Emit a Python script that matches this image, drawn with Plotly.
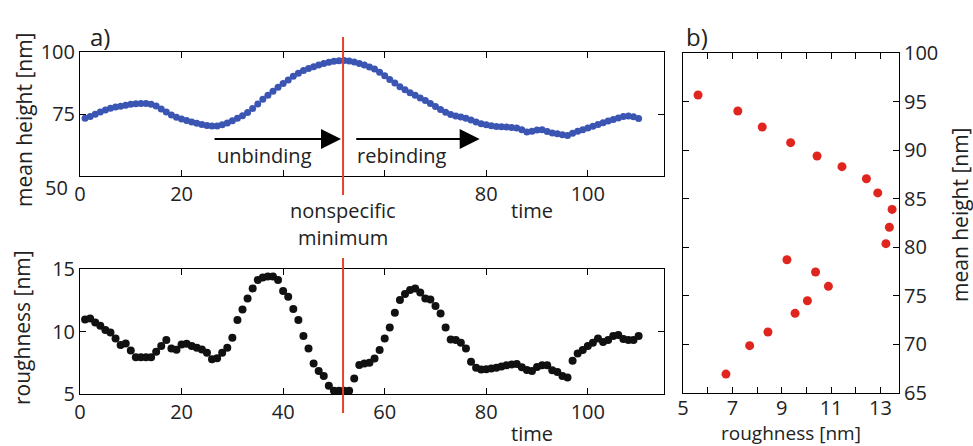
import plotly.graph_objects as go

W, H = 973, 446

time = list(range(1, 111))

mean_height = [
    73.3, 74.0, 74.9, 75.8, 76.6, 77.3, 77.8, 78.1, 78.5, 78.9,
    79.1, 79.2, 79.2, 78.9, 78.2, 77.0, 75.8, 74.6, 73.7, 73.0,
    72.4, 71.8, 71.3, 70.8, 70.4, 70.2, 70.2, 70.7, 71.4, 72.3,
    73.3, 74.3, 75.6, 77.2, 79.0, 80.9, 82.6, 84.2, 85.8, 87.3,
    88.7, 90.2, 91.4, 92.5, 93.3, 94.1, 94.8, 95.4, 95.9, 96.3,
    96.5, 96.6, 96.4, 96.0, 95.4, 94.8, 94.0, 93.1, 91.8, 90.4,
    88.9, 87.5, 86.0, 84.8, 83.6, 82.6, 81.5, 80.4, 79.2, 78.0,
    76.8, 75.7, 74.8, 74.2, 73.8, 73.3, 72.6, 71.8, 71.1, 70.7,
    70.3, 70.0, 69.9, 69.8, 69.6, 69.4, 68.6, 67.7, 68.0, 68.5,
    68.6, 67.9, 67.3, 67.0, 66.6, 66.3, 67.2, 68.0, 68.6, 69.4,
    70.1, 70.8, 71.5, 72.2, 72.8, 73.4, 74.0, 74.2, 73.9, 73.2,
]

roughness = [
    10.97, 11.05, 10.73, 10.47, 10.12, 9.93, 9.45, 8.92, 9.05, 8.49,
    7.94, 7.94, 7.94, 7.94, 8.38, 8.84, 9.32, 8.65, 8.55, 8.97,
    9.03, 8.84, 8.71, 8.57, 8.30, 7.78, 7.87, 8.30, 8.70, 9.51,
    10.92, 11.77, 12.65, 13.45, 14.12, 14.33, 14.40, 14.40, 14.12, 13.24,
    12.79, 11.80, 10.92, 9.64, 8.65, 7.45, 6.84, 6.44, 5.66, 5.26,
    5.26, 5.26, 5.26, 6.25, 7.32, 7.45, 7.50, 7.85, 8.52, 9.45,
    10.33, 11.51, 12.52, 13.00, 13.32, 13.45, 13.13, 12.65, 12.57, 12.04,
    11.45, 10.33, 9.37, 9.32, 9.11, 8.65, 7.59, 7.10, 6.97, 6.99,
    7.04, 7.10, 7.20, 7.30, 7.36, 7.40, 7.15, 6.93, 6.84, 7.17,
    7.30, 7.30, 6.90, 6.76, 6.44, 6.33, 7.67, 8.25, 8.52, 8.84,
    9.11, 9.45, 9.17, 9.32, 9.64, 9.73, 9.40, 9.32, 9.32, 9.64,
]

b_roughness = [5.61, 7.22, 8.21, 9.36, 10.43, 11.44, 12.43, 12.89, 13.47, 13.36,
               13.22, 9.21, 10.37, 10.89, 10.04, 9.54, 8.44, 7.70, 6.74]
b_height = [95.68, 94.03, 92.38, 90.77, 89.4, 88.3, 87.06, 85.6, 83.9, 82.06,
            80.37, 78.72, 77.46, 75.98, 74.5, 73.2, 71.28, 69.87, 66.95]

min_time = 51.8

top_xticks = [0, 20, 80, 100]
top_xminor = [40, 60]
top_yticks = [75, 100]
bot_xticks = [0, 20, 40, 60, 80, 100]
bot_yticks = [5, 10, 15]
b_xticks = [5, 7, 9, 11, 13]
b_xminor = [6, 8, 10, 12]
b_yticks = [65, 70, 75, 80, 85, 90, 95, 100]

FONT = "Open Sans"
FS = 20
TS = 21


def px(x):
    return x / W


def py(y):
    return 1 - y / H


fig = go.Figure()

fig.add_trace(go.Scatter(x=time, y=mean_height, mode="markers",
                         marker=dict(color="#3b55b3", size=7, line=dict(width=0)),
                         xaxis="x", yaxis="y", showlegend=False))
fig.add_trace(go.Scatter(x=time, y=roughness, mode="markers",
                         marker=dict(color="#111111", size=8, line=dict(width=0)),
                         xaxis="x2", yaxis="y2", showlegend=False))
fig.add_trace(go.Scatter(x=b_roughness, y=b_height, mode="markers",
                         marker=dict(color="#e0241e", size=9, line=dict(width=0)),
                         xaxis="x3", yaxis="y3", showlegend=False))

axis_common = dict(showline=True, linecolor="black", linewidth=1, mirror="ticks",
                   ticks="inside", ticklen=6, tickcolor="black", showgrid=False,
                   zeroline=False, automargin=False,
                   tickfont=dict(family=FONT, size=FS, color="#222"))

minor_style = dict(ticks="inside", ticklen=6, tickcolor="black", showgrid=False)

fig.update_layout(
    template="none",
    width=W, height=H,
    autosize=False,
    margin=dict(l=0, r=0, t=0, b=0, pad=0, autoexpand=False),
    showlegend=False,
    paper_bgcolor="white", plot_bgcolor="white",
    font=dict(family=FONT, size=FS, color="#222"),
    xaxis=dict(domain=[px(80), px(664)], range=[0, 115], anchor="y",
               tickvals=top_xticks, minor=dict(tickvals=top_xminor, **minor_style),
               **axis_common),
    yaxis=dict(domain=[py(176), py(52)], range=[50, 100], anchor="x",
               tickvals=top_yticks, **axis_common),
    xaxis2=dict(domain=[px(80), px(664)], range=[0, 115], anchor="y2",
                tickvals=bot_xticks, **axis_common),
    yaxis2=dict(domain=[py(394), py(269)], range=[5, 15], anchor="x2",
                tickvals=bot_yticks, **axis_common),
    xaxis3=dict(domain=[px(683), px(899)], range=[5, 13.75], anchor="y3",
                tickvals=b_xticks, minor=dict(tickvals=b_xminor, **minor_style),
                ticklabelstandoff=-3, **axis_common),
    yaxis3=dict(domain=[py(393), py(53)], range=[65, 100], anchor="x3", side="right",
                tickvals=b_yticks, **axis_common),
)

red = "#e5412b"
fig.add_shape(type="line", xref="x", yref="paper", x0=min_time, x1=min_time,
              y0=py(195), y1=py(37), line=dict(color=red, width=2))
fig.add_shape(type="line", xref="x2", yref="paper", x0=min_time, x1=min_time,
              y0=py(413), y1=py(258), line=dict(color=red, width=2))

ann = []


def txt(text, x, y, size=FS, angle=0, xanchor="center", yanchor="middle"):
    ann.append(dict(text=text, x=px(x), y=py(y), xref="paper", yref="paper",
                    showarrow=False, textangle=angle, xanchor=xanchor, yanchor=yanchor,
                    font=dict(family=FONT, size=size, color="#222")))


txt("a)", 100, 36, size=24)
txt("b)", 697, 36, size=24)
txt("50", 70, 187, xanchor="right")
txt("mean height [nm]", 24, 120, size=TS, angle=-90)
txt("roughness [nm]", 22, 328, size=TS, angle=-90)
txt("mean height [nm]", 960, 215, size=TS, angle=-90)
txt("roughness [nm]", 791, 433, size=19)
txt("nonspecific", 343, 211)
txt("minimum", 343, 237)
txt("time", 532, 211)
txt("time", 532, 433)
txt("unbinding", 264, 155)
txt("rebinding", 402, 155)

for x0, x1 in [(26.2, 51.4), (54.1, 78.7)]:
    ann.append(dict(x=x1, y=64.9, ax=x0, ay=64.9, xref="x", yref="y",
                    axref="x", ayref="y", showarrow=True, arrowhead=2,
                    arrowsize=2, arrowwidth=2, arrowcolor="black", text=""))

fig.update_layout(annotations=ann)

fig.write_html("out.html")
